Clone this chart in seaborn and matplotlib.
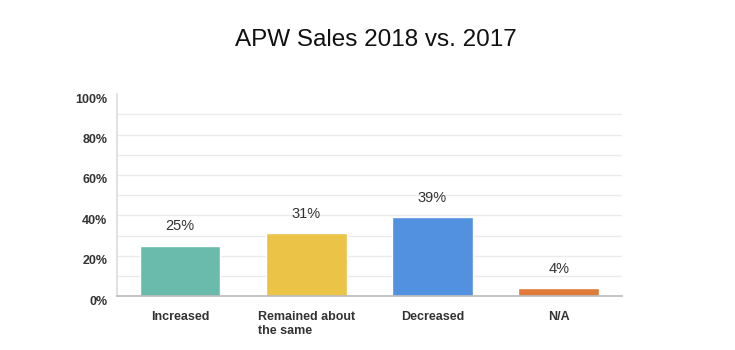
import matplotlib
matplotlib.use("Agg")
import matplotlib.pyplot as plt
import matplotlib.transforms as mtransforms
import seaborn as sns
import pandas as pd

categories = ["Increased", "Remained about\nthe same", "Decreased", "N/A"]
values = [25, 31, 39, 4]
colors = ["#6ABBAC", "#EBC346", "#5290E0", "#E07B39"]
yticks = [0, 20, 40, 60, 80, 100]
ytick_labels = ["0%", "20%", "40%", "60%", "80%", "100%"]
title = "APW Sales 2018 vs. 2017"

sns.set_theme(style="white")
plt.rcParams['font.family'] = ['Liberation Sans', 'DejaVu Sans']

df = pd.DataFrame({"cat": categories, "val": values})

fig = plt.figure(figsize=(7.35, 3.5), dpi=100)
ax = fig.add_axes([0.159, 0.154, 0.687, 0.577])

sns.barplot(data=df, x="cat", y="val", hue="cat", palette=colors, legend=False,
            width=0.64, ax=ax, saturation=1)

ax.set_ylim(0, 100)
ax.set_xlim(-0.5, 3.5)
for g in range(10, 100, 10):
    ax.axhline(g, color="#EBEBEB", lw=1, zorder=0)
ax.set_axisbelow(True)

ax.set_yticks(yticks)
ax.set_yticklabels(ytick_labels, fontsize=9, fontweight="bold", color="#333333")
ax.tick_params(axis="y", length=0, pad=7)
for lbl in ax.get_yticklabels():
    lbl.set_transform(lbl.get_transform() + mtransforms.ScaledTranslation(0, -4/100, fig.dpi_scale_trans))

ax.set_xticks(range(len(categories)))
ax.set_xticklabels(categories, fontsize=9, fontweight="bold", color="#333333",
                   multialignment="left")
ax.tick_params(axis="x", length=0, pad=11)
ax.set_xlabel("")
ax.set_ylabel("")

for i, v in enumerate(values):
    ax.annotate(f"{v}%", (i, v), xytext=(0, 9), textcoords="offset points",
                ha="center", va="bottom", fontsize=10.5, color="#333333")

for s in ["top", "right"]:
    ax.spines[s].set_visible(False)
ax.spines["left"].set_color("#DDDDDD")
ax.spines["bottom"].set_color("#BBBBBB")

fig.text(0.512, 0.885, title, ha="center", va="center", fontsize=17.5, color="#111111")

fig.savefig("out.png", dpi=100, facecolor="white")
